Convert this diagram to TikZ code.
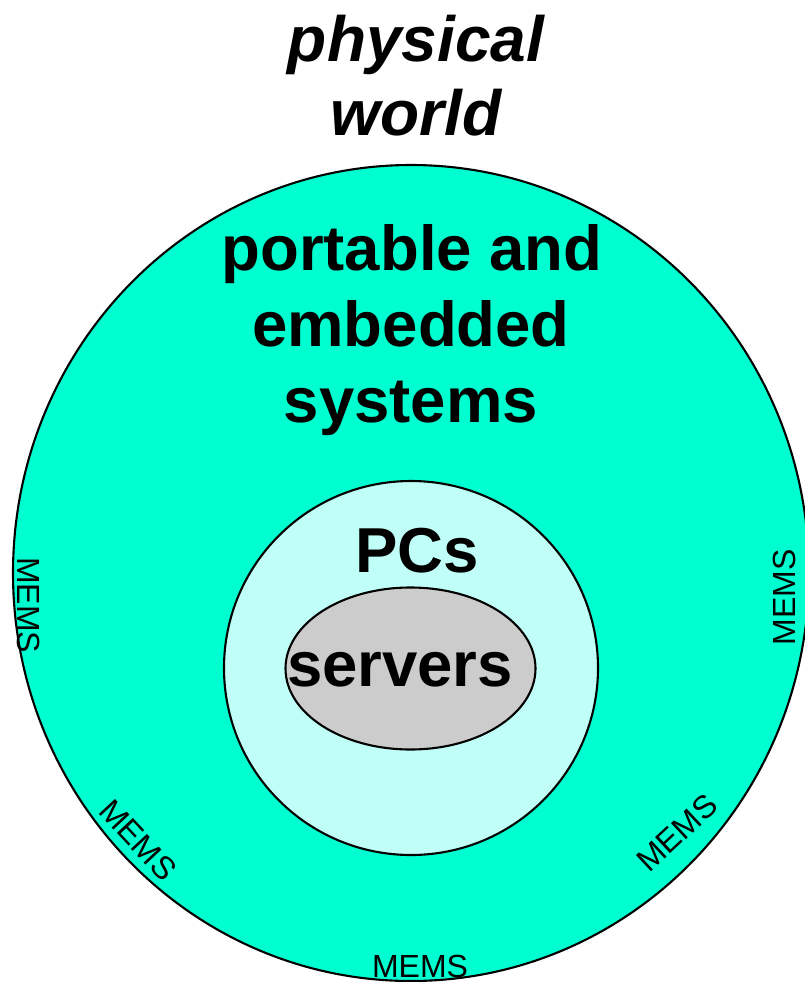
\documentclass[tikz,border=0pt]{standalone}
\usepackage{fontspec}
\setmainfont{Liberation Sans}
\begin{document}
\begin{tikzpicture}[x=1pt,y=1pt,
  ring/.style={draw=black,line width=2.1pt},
  bigtext/.style={font=\fontsize{63.5}{75}\selectfont\bfseries,inner sep=0pt,anchor=base},
  titletext/.style={font=\fontsize{64}{75}\selectfont\bfseries\itshape,inner sep=0pt,anchor=base},
  memstext/.style={font=\fontsize{32}{36}\selectfont,inner sep=0pt}]
\definecolor{outerfill}{RGB}{0,255,208}
\definecolor{pcfill}{RGB}{192,255,248}
\definecolor{srvfill}{RGB}{204,204,204}
\useasboundingbox (0,0) rectangle (805,-982);
\begin{scope}
\clip (0,0) rectangle (805,-982);
% outer region: portable and embedded systems
\path[ring,fill=outerfill] (411,-573) ellipse [x radius=398, y radius=408];
\end{scope}
% middle region: PCs
\path[ring,fill=pcfill] (411,-668) circle [radius=187];
% inner region: servers
\path[ring,fill=srvfill] (410.5,-668.5) ellipse [x radius=125, y radius=81];

% labels
\node[titletext] (pw1) at (416,-62) {physical};
\node[titletext] (pw2) at (416,-135) {world};
\node[bigtext] (pe1) at (412,-270) {portable and};
\node[bigtext] (pe2) at (411,-346) {embedded};
\node[bigtext] (pe3) at (411,-422) {systems};
\node[bigtext] (pcs) at (417,-572) {PCs};
\node[bigtext] (srv) at (400,-686) {servers};

% MEMS around the rim
\node[memstext,rotate=-90] (m1) at (29,-605) {MEMS};
\node[memstext,rotate=90] (m2) at (784,-597) {MEMS};
\node[memstext,rotate=-47] (m3) at (138,-840) {MEMS};
\node[memstext,rotate=43] (m4) at (677,-833) {MEMS};
\node[memstext,anchor=base] (m5) at (420,-977) {MEMS};
\end{tikzpicture}
\end{document}
